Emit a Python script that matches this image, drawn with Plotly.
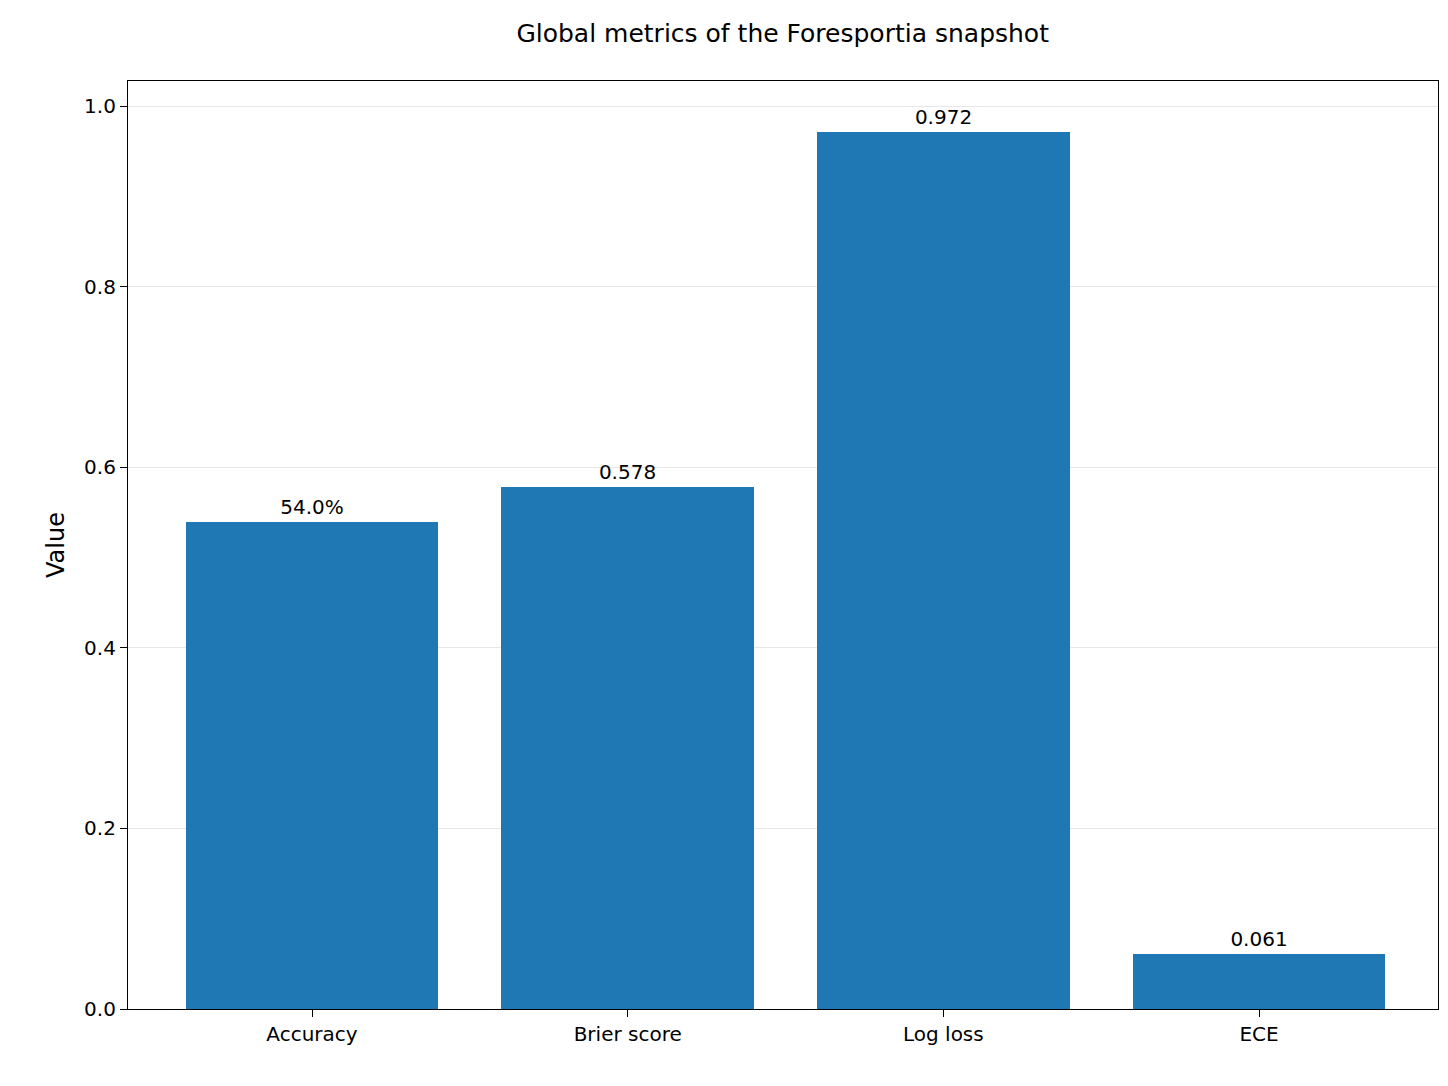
import plotly.graph_objects as go

categories = ["Accuracy", "Brier score", "Log loss", "ECE"]
values = [0.540, 0.578, 0.972, 0.061]
labels = ["54.0%", "0.578", "0.972", "0.061"]
yticks = [0.0, 0.2, 0.4, 0.6, 0.8, 1.0]

fig = go.Figure(go.Bar(
    x=list(range(len(categories))), y=values, width=0.8,
    marker=dict(color="#1f77b4", line=dict(width=0)),
    text=labels, textposition="outside", cliponaxis=False,
    textfont=dict(size=20, color="black"),
))
fig.update_layout(
    width=1448, height=1086,
    margin=dict(l=120, r=18, t=73, b=85),
    paper_bgcolor="white", plot_bgcolor="white",
    font=dict(family="DejaVu Sans", color="black", size=20),
    title=dict(text="Global metrics of the Foresportia snapshot", x=0.535, xanchor="center",
               y=0.985, yanchor="top", font=dict(size=25)),
    showlegend=False, bargap=0,
)
fig.update_xaxes(range=[-0.583, 3.567], tickvals=list(range(len(categories))), ticktext=categories,
                 showline=True, linecolor="black", linewidth=1.2, mirror=True,
                 ticks="outside", ticklen=7, tickcolor="black", showgrid=False, zeroline=False)
fig.update_yaxes(range=[0, 1.028], tickvals=yticks, ticktext=[f"{v:.1f}" for v in yticks],
                 title=dict(text="Value", standoff=12),
                 showline=True, linecolor="black", linewidth=1.2, mirror=True,
                 ticks="outside", ticklen=7, tickcolor="black",
                 showgrid=True, gridcolor="#e6e6e6", zeroline=False)
fig.write_html("out.html")
